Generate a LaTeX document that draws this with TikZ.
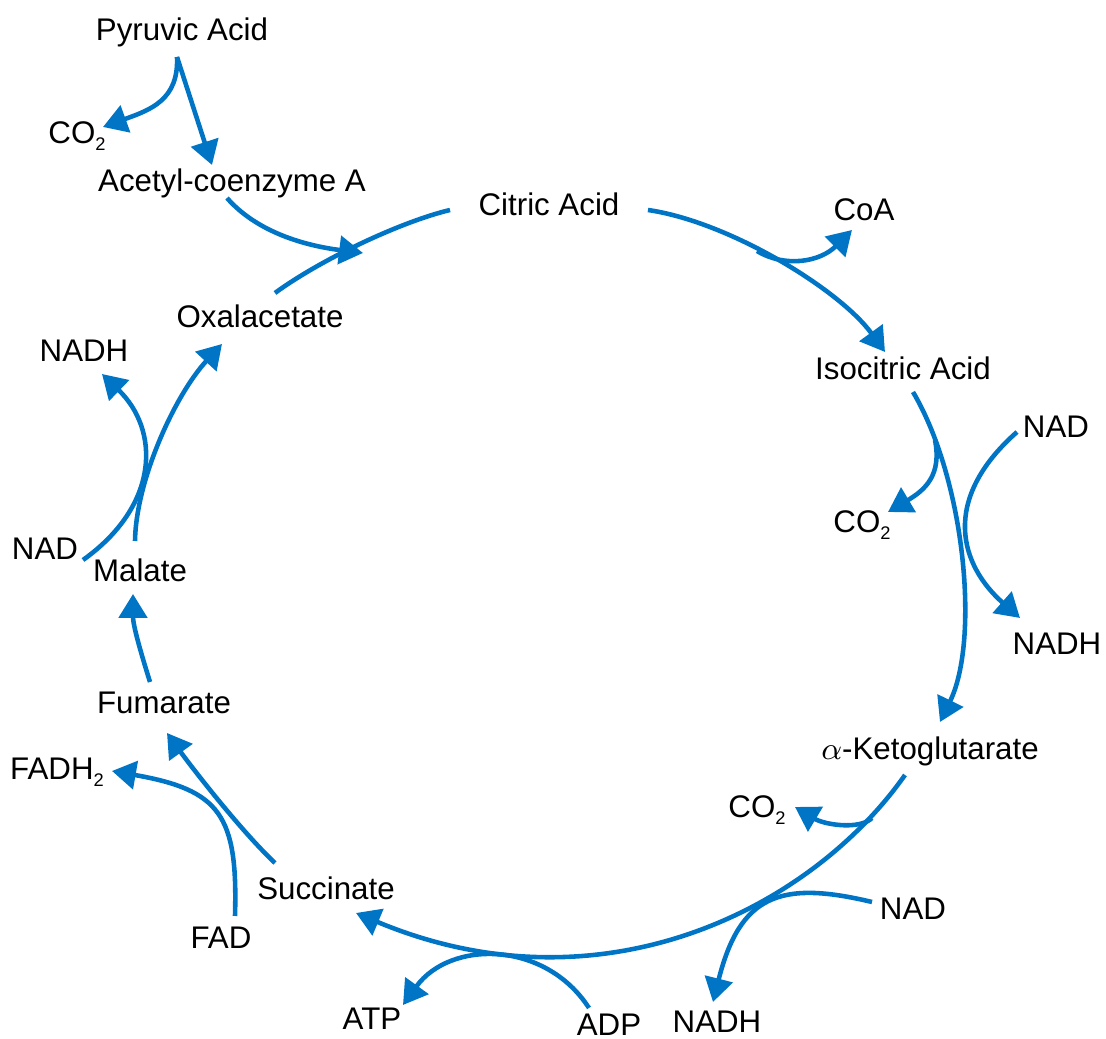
\documentclass[tikz,border=0pt]{standalone}
\usepackage{fontspec}
\setmainfont{Liberation Sans}
\usetikzlibrary{arrows.meta,calc}
\definecolor{cycleblue}{RGB}{0,117,198}
\newcommand{\subtwo}{\raisebox{-2pt}{\fontsize{5.2}{6}\selectfont 2}}

\begin{document}
\begin{tikzpicture}[x=0.1mm, y=-0.1mm,
    chem/.style={inner sep=0pt, text height=6.4pt, text depth=0pt, font=\fontsize{8.9}{11}\selectfont},
    flow/.style={cycleblue, line width=1.3pt, -{Triangle[length=6.8pt, width=8pt]}},
    link/.style={cycleblue, line width=1.3pt}]
    \useasboundingbox (0,0) rectangle (1106,1039);

    % entry from pyruvic acid
    \node[chem] (pyr) at (182,29) {Pyruvic Acid};
    \node[chem] (co2a) at (77,132) {CO\subtwo};
    \node[chem] (acoa) at (232,180) {Acetyl-coenzyme A};
    \coordinate (acin) at (363,253);

    % the cycle
    \node[chem] (cit) at (549,204) {Citric Acid};
    \node[chem] (isoc) at (903,368) {Isocitric Acid};
    \node[chem] (akg) at (930,748) {$\alpha$-Ketoglutarate};
    \node[chem] (succ) at (326,888) {Succinate};
    \node[chem] (fum) at (164,702) {Fumarate};
    \node[chem] (mal) at (140,570) {Malate};
    \node[chem] (oxal) at (260,316) {Oxalacetate};

    % side products
    \node[chem] (coa) at (864,209) {CoA};
    \node[chem] (nadb) at (1056,426) {NAD};
    \node[chem] (co2b) at (862,521) {CO\subtwo};
    \node[chem] (nadhb) at (1057,643) {NADH};
    \node[chem] (co2c) at (757,806) {CO\subtwo};
    \node[chem] (nadc) at (913,908) {NAD};
    \node[chem] (nadhc) at (717,1021) {NADH};
    \node[chem] (adp) at (609,1024) {ADP};
    \node[chem] (atp) at (372,1018) {ATP};
    \node[chem] (fad) at (221,937) {FAD};
    \node[chem] (fadh) at (57,768) {FADH\subtwo};
    \node[chem] (nadd) at (45,548) {NAD};
    \node[chem] (nadhd) at (84,350) {NADH};

    % junctions on the ring
    \coordinate (jcoa) at (757,251);
    \coordinate (jco2b) at (935,440);
    \coordinate (jco2c) at (872,818);

    % pyruvic acid -> acetyl-CoA
    \draw[flow] ($(pyr)+(-5,28)$) .. controls +(2,43) and +(47,-17) .. ($(co2a)+(26,-5)$);
    \draw[flow] ($(pyr)+(-5,28)$) -- ($(acoa)+(-20,-15)$);
    \draw[flow] ($(acoa)+(-5,18)$) .. controls +(28,32) and +(-63,-8) .. (acin);

    % ring arrows
    \draw[link] ($(oxal)+(15,-23)$) .. controls +(45,-33) and +(-50,12) .. ($(cit)+(-99,6)$);
    \draw[flow] ($(cit)+(99,6)$) .. controls +(82,12) and +(-45,-62) .. ($(isoc)+(-18,-16)$);
    \draw[flow] ($(isoc)+(10,24)$) .. controls +(52,88) and +(40,-82) .. ($(akg)+(10,-26)$);
    \draw[flow] ($(akg)+(-25,27)$) .. controls +(-95,135) and +(244,102) .. ($(succ)+(30,25)$);
    \draw[flow] ($(succ)+(-51,-25)$) .. controls +(-35,-33) and +(23,32) .. ($(fum)+(3,31)$);
    \draw[flow] ($(fum)+(-14,-20)$) .. controls +(-10,-32) and +(0,31) .. ($(mal)+(-7,24)$);
    \draw[flow] ($(mal)+(-5,-29)$) .. controls +(1,-61) and +(-47,51) .. ($(oxal)+(-38,28)$);

    % branches
    \draw[flow] (jcoa) .. controls +(28,17) and +(-32,32) .. ($(coa)+(-12,21)$);
    \draw[flow] (jco2b) .. controls +(7,35) and +(37,-22) .. ($(co2b)+(26,-9)$);
    \draw[flow] ($(nadb)+(-39,6)$) .. controls +(-77,68) and +(-60,-53) .. ($(nadhb)+(-37,-25)$);
    \draw[flow] (jco2c) .. controls +(-12,12) and +(30,18) .. ($(co2c)+(38,1)$);
    \draw[flow] ($(nadc)+(-41,-6)$) .. controls +(-92,-22) and +(27,-107) .. ($(nadhc)+(-4,-19)$);
    \draw[flow] ($(adp)+(-20,-16)$) .. controls +(-44,-68) and +(47,-65) .. ($(atp)+(31,-13)$);
    \draw[flow] ($(fad)+(14,-21)$) .. controls +(3,-101) and +(108,19) .. ($(fadh)+(55,3)$);
    \draw[flow] ($(nadd)+(38,12)$) .. controls +(77,-55) and +(58,56) .. ($(nadhd)+(18,24)$);
\end{tikzpicture}
\end{document}
